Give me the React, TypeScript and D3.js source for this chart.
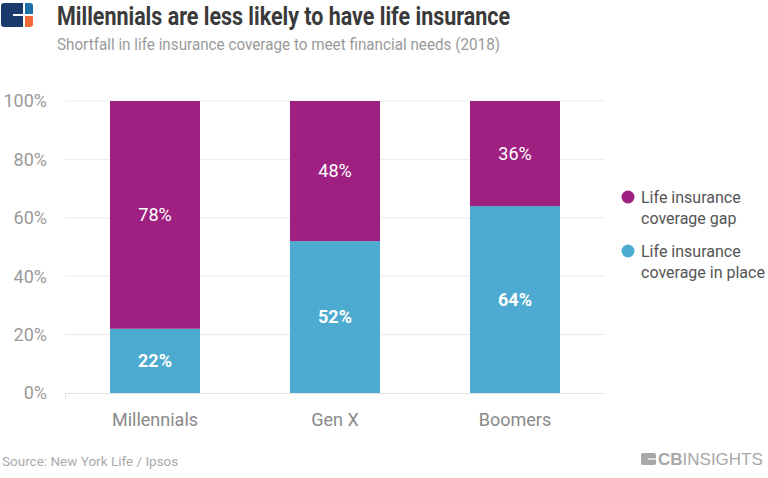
import React from "react";
import * as d3 from "d3";

const categories = ["Millennials", "Gen X", "Boomers"];
const inPlace = [22, 52, 64];
const gap = [78, 48, 36];
const yTicks = [0, 20, 40, 60, 80, 100];
const seriesNames = ["Life insurance coverage gap", "Life insurance coverage in place"];

const W = 768, H = 478;
const PURPLE = "#9E2182";
const BLUE = "#4DAAD0";
const FONT = "Roboto, 'Noto Sans', sans-serif";

export default function App() {
  const x = d3.scaleBand<string>().domain(categories).range([65, 605]).paddingInner(0.5).paddingOuter(0.25);
  const y = d3.scaleLinear().domain([0, 100]).range([393, 101]);
  const bw = x.bandwidth();
  return (
    <svg width={W} height={H} style={{ position: "absolute", left: 0, top: 0, background: "#fff" }} fontFamily={FONT}>
      {/* logo */}
      <g>
        <path d="M4,3 H23 V14 H13 V16 H23 V27 H4 Q1,27 1,24 V6 Q1,3 4,3 Z" fill="#1A3A6B" />
        <path d="M25,3 H30 Q33,3 33,6 V14 H25 Z" fill="#1E6FA8" />
        <path d="M25,16 H33 V24 Q33,27 30,27 H25 Z" fill="#F26A35" />
      </g>
      <text x={57} y={25} fontSize={26} fontWeight={700} fill="#3a3a3a" textLength={453} lengthAdjust="spacingAndGlyphs">Millennials are less likely to have life insurance</text>
      <text x={57} y={50} fontSize={17} fill="#9a9a9a" textLength={443} lengthAdjust="spacingAndGlyphs">Shortfall in life insurance coverage to meet financial needs (2018)</text>

      {yTicks.map((t) => (
        <g key={t}>
          {t > 0 && <line x1={65} x2={605} y1={y(t)} y2={y(t)} stroke="#ebebeb" strokeWidth={1} />}
          <text x={47} y={y(t)} dy="0.35em" textAnchor="end" fontSize={18} fill="#9a9a9a">{t}%</text>
        </g>
      ))}
      <line x1={65} x2={605} y1={393.5} y2={393.5} stroke="#e3e3e3" strokeWidth={1} />
      <line x1={65.5} x2={65.5} y1={393} y2={399} stroke="#e3e3e3" strokeWidth={1} />

      {categories.map((c, i) => {
        const x0 = x(c)!;
        const yTop1 = y(inPlace[i]);
        const yTop2 = y(inPlace[i] + gap[i]);
        return (
          <g key={c}>
            <rect x={x0} y={yTop1} width={bw} height={y(0) - yTop1} fill={BLUE} />
            <rect x={x0} y={yTop2} width={bw} height={yTop1 - yTop2} fill={PURPLE} />
            <text x={x0 + bw / 2} y={(y(0) + yTop1) / 2} dy="0.35em" textAnchor="middle" fontSize={18} fontWeight={700} fill="#fff">{inPlace[i]}%</text>
            <text x={x0 + bw / 2} y={(yTop1 + yTop2) / 2} dy="0.35em" textAnchor="middle" fontSize={18} fill="#fff">{gap[i]}%</text>
            <text x={x0 + bw / 2} y={420} dy="0.35em" textAnchor="middle" fontSize={18} fill="#8a8a8a">{c}</text>
          </g>
        );
      })}

      {/* legend */}
      {seriesNames.map((s, i) => {
        const cy = 197 + i * 54;
        const words = s.split(" ");
        const l1 = words.slice(0, 2).join(" ");
        const l2 = words.slice(2).join(" ");
        return (
          <g key={s}>
            <circle cx={628} cy={cy} r={6.5} fill={i === 0 ? PURPLE : BLUE} />
            <text x={641} y={cy} dy="0.35em" fontSize={16} fill="#555">{l1}</text>
            <text x={641} y={cy + 21} dy="0.35em" fontSize={16} fill="#555">{l2}</text>
          </g>
        );
      })}

      <text x={2} y={461} dy="0.35em" fontSize={13.5} fill="#aaa">Source: New York Life / Ipsos</text>
      {/* CB Insights logo */}
      <g>
        <rect x={641} y={453} width={15} height={12} rx={2} fill="#a8a8a8" />
        <line x1={648} x2={656} y1={459} y2={459} stroke="#fff" strokeWidth={1.2} />
        <text x={658} y={465} fontSize={17} fill="#a8a8a8" fontFamily="'Liberation Sans', Arial, sans-serif"><tspan fontWeight={700}>CB</tspan>INSIGHTS</text>
      </g>
    </svg>
  );
}
